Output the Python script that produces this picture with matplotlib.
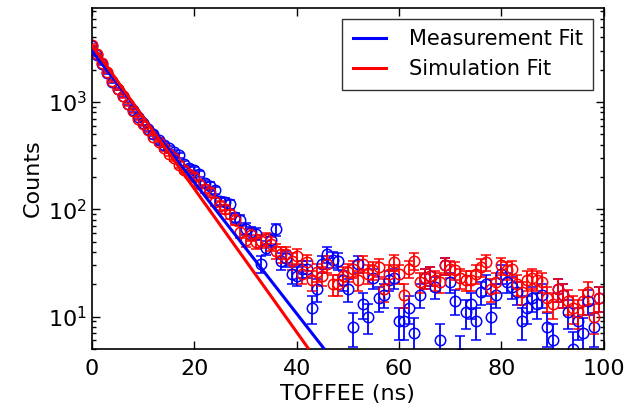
#%%### Imports
import numpy as np
import matplotlib as mpl
import matplotlib.pyplot as plt

#%%### Data
t_ns = np.arange(100)

counts_sim = [
    3400, 2800, 2300, 1900, 1580, 1330, 1130, 950, 820, 700,
    620, 545, 475, 420, 370, 330, 300, 260, 235, 215,
    200, 172, 155, 145, 118, 108, 100, 90, 80, 62,
    52, 58, 50, 51, 53, 48, 41, 38, 38, 33,
    37, 25, 32, 22, 26, 24, 31, 20, 20, 24,
    26, 28, 22, 31, 25, 27, 29, 18, 25, 32,
    25, 16, 28, 33, 21, 23, 24, 22, 21, 30,
    28, 27, 23, 22, 22, 25, 29, 32, 18, 21,
    30, 27, 28, 20, 17, 22, 23, 22, 21, 15,
    13, 18, 16, 14, 12, 11, 14, 17, 10, 15,
]
counts_meas = [
    3300, 2750, 2250, 1850, 1550, 1320, 1150, 960, 840, 720,
    640, 560, 500, 440, 400, 370, 340, 320, 265, 245,
    235, 215, 175, 165, 150, 120, 118, 112, 84, 80,
    66, 61, 59, 31, 44, 52, 65, 33, 35, 25,
    24, 28, 28, 12, 18, 31, 38, 34, 33, 22,
    18, 8, 31, 13, 10, 23, 15, 16, 22, 23,
    9, 9, 12, 7, 16, 23, 24, 19, 6, 30,
    21, 14, 4.5, 11, 13, 9, 17, 20, 10, 16,
    25, 21, 19, 17, 9, 12, 15, 13, 16, 8,
    6, 18, 16, 11, 5, 9, 7, 14, 8, 15,
]

## Exponential fit parameters (amplitude, decay constant in ns)
fit_meas = (2980, 7.1)
fit_sim = (3370, 6.5)

#%%### Plot
mpl.rcParams['font.family'] = 'DejaVu Sans'
mpl.rcParams['font.size'] = 16

f = plt.figure(figsize=(6.31, 4.09), dpi=100)
ax = f.add_axes([0.1458, 0.147, 0.811, 0.833])

for counts, color in [(counts_meas, 'b'), (counts_sim, 'r')]:
    counts = np.array(counts, dtype=float)
    ax.errorbar(
        t_ns, counts, yerr=np.sqrt(counts), fmt='o', color=color,
        mfc='none', mec=color, ms=7.5, mew=1.1, elinewidth=1.3,
        capsize=3.5, capthick=1.3, zorder=2,
    )

tt = np.linspace(0, 100, 500)
for (amp, tau), color, label in [
    (fit_meas, 'b', 'Measurement Fit'),
    (fit_sim, 'r', 'Simulation Fit'),
]:
    ax.plot(tt, amp * np.exp(-tt / tau), color=color, lw=2.2, label=label, zorder=3)

ax.set_yscale('log')
ax.set_xlim(0, 100)
ax.set_ylim(5, 7500)
ax.set_xticks(range(0, 101, 20))
ax.set_xlabel('TOFFEE (ns)')
ax.set_ylabel('Counts')
ax.tick_params(which='both', direction='in', top=True, right=True, labelsize=16)
ax.tick_params(which='major', length=6, width=1)
ax.tick_params(which='minor', length=3, width=1)
ax.tick_params(axis='x', pad=7)
for spine in ax.spines.values():
    spine.set_linewidth(1.2)

ax.legend(
    loc='upper right', fontsize=15, fancybox=False, edgecolor='k',
    handlelength=1.6, borderaxespad=0.5, labelspacing=0.5,
    handletextpad=1.1, borderpad=0.5,
).get_frame().set_linewidth(1)

plt.savefig('out.png', dpi=100)
